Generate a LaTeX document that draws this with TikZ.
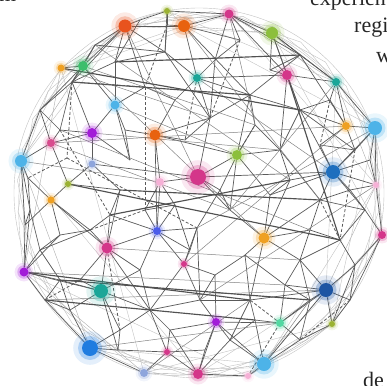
\documentclass[tikz,border=0pt]{standalone}
\usepackage{fontspec}
\newfontfamily\pagefont{Liberation Serif}
\pgfdeclarelayer{edges}
\pgfsetlayers{edges,main}
\definecolor{corg}{HTML}{E8531E}
\definecolor{colive}{HTML}{9BB232}
\definecolor{corange}{HTML}{E8620F}
\definecolor{cmag}{HTML}{D4368A}
\definecolor{cyg}{HTML}{8CBF3C}
\definecolor{cgold}{HTML}{EFA022}
\definecolor{cgreen}{HTML}{3DBE6C}
\definecolor{cteal}{HTML}{1AA698}
\definecolor{clblue}{HTML}{4DB3E8}
\definecolor{cpurple}{HTML}{A21CD8}
\definecolor{cpink}{HTML}{D94C8E}
\definecolor{cperi}{HTML}{8EA5DC}
\definecolor{clpink}{HTML}{F6B0D6}
\definecolor{cblue}{HTML}{1E6FBE}
\definecolor{croyal}{HTML}{4B5CEA}
\definecolor{cdblue}{HTML}{1D55A3}
\definecolor{cmint}{HTML}{52D8A2}
\definecolor{cbblue}{HTML}{1F7CE0}
\definecolor{ledge}{HTML}{5A5A5A}
\definecolor{lrim}{HTML}{C2C2C2}
\tikzset{
  dot/.style={circle, inner sep=0pt, draw=none},
  edgeA/.style={draw=ledge, line width=0.7pt},
  edgeB/.style={draw=ledge!90!black, line width=1.15pt},
  edgeC/.style={draw=ledge!75!white, line width=0.5pt},
  edgeD/.style={draw=ledge, line width=0.8pt, dash pattern=on 3pt off 2pt},
  rimline/.style={draw=lrim, line width=0.4pt},
  rimdark/.style={draw=ledge!50!white, line width=0.4pt},
  txt/.style={anchor=base west, inner sep=0pt, font=\pagefont\fontsize{22}{26}\selectfont, text=black!85}
}
\begin{document}
\begin{tikzpicture}[x=1pt,y=-1pt]
\useasboundingbox (0,0) rectangle (387,385);
% hidden mesh vertices
\foreach \n/\x/\y in {h1/167/25,h2/115/62,h3/72/82,h4/145/87,h5/165/52,h6/240/40,
  h7/300/55,h8/250/95,h9/210/118,h10/300/110,h11/355/150,h12/320/200,h13/365/210,
  h14/355/265,h15/300/260,h16/340/240,h17/250/300,h18/200/300,h19/150/310,h20/120/330,
  h21/70/310,h22/40/250,h23/30/210,h24/28/178,h25/67/158,h26/40/110,h27/197/228,
  h28/145/210,h29/230/210,h30/280/150,h31/120/190,h32/90/230,h33/60/280,h34/230/340,
  h35/300/340,h36/118/350,h37/270/195,h38/185/140,h39/130/160,h40/310/300,
  g1/95/45,g2/215/60,g3/330/100,g4/255/125,g5/175/100,g6/60/130,g7/125/130,
  g8/220/190,g9/290/180,g10/350/190,g11/110/215,g12/175/205,g13/245/255,g14/310/230,
  g15/60/235,g16/140/270,g17/215/275,g18/285/285,g19/45/300,g20/170/330,g21/255/320,
  g22/350/300,g23/205/350,g24/370/160,g25/25/225,g26/140/20,g27/270/70,g28/320/145,
  g29/190/250,g30/80/280}
  \coordinate (\n) at (\x,\y);
\foreach \i in {0,...,35}
  \path (199,193) ++({\i*10+4}:182) coordinate (r\i);
% coloured glowing nodes
\foreach \n/\x/\y/\c/\r in {n1/125/26/corg/6.5,n2/167/11/colive/3,n3/184/26/corange/6,
  n4/229/14/cmag/4.5,n5/272/33/cyg/6,n6/61/68/cgold/3.5,n7/83/66/cgreen/5,
  n8/197/78/cteal/4,n9/287/75/cmag/5,n10/336/82/cteal/4,n11/115/105/clblue/4.5,
  n12/346/126/cgold/4,n13/375/128/clblue/7,n14/92/133/cpurple/5,n15/155/135/corange/5.5,
  n16/51/143/cpink/4,n17/21/161/clblue/6,n18/92/164/cperi/3.5,n19/237/155/cyg/5,
  n20/198/177/cmag/8,n21/160/182/clpink/4,n22/333/172/cblue/7,n23/68/184/colive/3,
  n24/376/185/clpink/3,n25/51/200/cgold/3.5,n26/157/231/croyal/4,n27/264/238/cgold/5.5,
  n28/382/235/cmag/4,n29/107/248/cmag/5.5,n30/184/264/cmag/3,n31/24/272/cpurple/4.5,
  n32/101/291/cteal/7,n33/326/290/cdblue/7,n34/216/322/cpurple/4,n35/280/323/cmint/4,
  n36/332/324/colive/3,n37/90/348/cbblue/8,n38/167/352/cmag/3,n39/144/373/cperi/4,
  n40/198/374/cmag/5,n41/248/376/clpink/3,n42/264/364/clblue/7}{
  \fill[\c, opacity=0.12] (\x,\y) circle[radius=\r*2.1pt];
  \fill[\c, opacity=0.28] (\x,\y) circle[radius=\r*1.5pt];
  \node[dot, fill=\c, minimum size=\r*2pt] (\n) at (\x,\y) {};
}
\begin{pgfonlayer}{edges}
\draw[rimline] (199,193) circle[radius=185pt];
% rim bands
\foreach \i in {0,...,35}{
  \pgfmathtruncatemacro\ja{mod(\i+3,36)}
  \draw[rimline] (r\i) -- (r\ja);
}
\foreach \a/\b in {n17/n6,n6/n7,n7/n1,n1/n2,n2/n3,n3/n4,n4/n5,n5/n10,n10/n13,n13/n24,
  n24/n28,n28/n33,n33/n36,n36/n42,n42/n41,n41/n40,n40/n39,n39/n37,n37/n31,n31/n17}
  \draw[rimline] (\a) to[bend left=6] (\b);
\foreach \a/\b in {n17/n7,n6/n1,n1/n4,n3/n5,n4/n10,n5/n13,n10/n24,n13/n28,n24/n33,
  n28/n36,n33/n42,n36/n41,n42/n40,n41/n39,n40/n37,n39/n31,n37/n17,n31/n6}
  \draw[rimdark] (\a) -- (\b);
\foreach \a/\b in {n17/n1,n6/n3,n7/n4,n1/n5,n2/n10,n3/n13,n4/n24,n5/n28,n10/n33,n13/n36,
  n24/n42,n28/n41,n33/n40,n36/n39,n42/n37,n41/n31,n40/n17,n39/n6}
  \draw[rimline] (\a) -- (\b);
% main mesh
\foreach \a/\b in {n1/h2,n1/h5,n1/n3,n1/n7,n1/h4,n1/h3,
  n3/h1,n3/n8,n3/h6,n3/n4,n3/h8,n4/h6,n4/n5,n4/h7,n4/n9,
  n5/h7,n5/n10,n5/h10,n5/n9,n2/h1,n2/n4,n2/h5,
  h1/h5,h5/h2,h5/n8,h5/h9,h2/n11,h2/h3,
  n6/n7,n7/h3,n7/h26,n7/n11,h3/h26,h3/n14,
  n8/h8,n8/n9,n8/h9,n9/n10,n9/h10,n9/h30,n10/n12,n10/n13,n10/h7,
  h7/h8,h7/n12,h8/h9,h8/h10,h8/n19,h9/n15,h9/h38,h9/n20,
  h10/n12,h10/h11,h10/h30,h10/n22,n11/n14,n11/h4,n11/h39,
  n12/n13,n12/h11,n13/n22,n13/n24,n13/h11,
  n14/n16,n14/h39,n14/n18,n15/n21,n15/h38,n15/n19,n15/n26,
  n16/n17,n16/h26,n16/n23,n17/h24,n17/h26,n17/h23,
  n18/n23,n18/h31,n18/n20,n19/n20,n19/h30,n19/h37,n19/h29,
  n20/n21,n20/n22,n20/h29,n21/h28,n21/n26,
  n22/h11,n22/n24,n22/h12,n22/h37,n22/h13,n23/n25,n23/h31,
  h24/n25,h24/h23,n25/h32,n25/n29,
  n26/h28,n26/h27,n26/n29,n26/n30,
  n27/h29,n27/h37,n27/h12,n27/h15,n27/h17,
  n28/h13,n28/h14,n28/n24,h12/h13,h12/h30,h13/h16,
  h14/h16,h14/n33,h14/n36,h15/h16,h15/n33,h15/h40,
  n29/h32,n29/n32,n29/h19,n29/h31,n30/h27,n30/h18,n30/h19,
  n31/h22,n31/h33,n31/n32,n31/h23,h22/h23,h22/h32,h22/h33,
  n32/h33,n32/h21,n32/h36,n32/h20,n32/h19,
  n33/h40,n33/n36,n33/n35,n33/n42,n34/h18,n34/h34,n34/n35,n34/n40,
  n35/h35,n35/h40,n37/h21,n37/h36,n37/h20,n37/n39,
  n38/h36,n38/h19,n38/n39,n38/n40,n40/h34,n40/n41,
  n42/h35,n42/n34,n42/n41,n42/h34,h17/h18,h17/h34,h17/n33,
  h18/h19,h18/h27,h19/h20,h20/h36,h21/h33,h35/h40,h35/n36}
  \draw[edgeA] (\a) -- (\b);
\foreach \a/\b in {g1/n1,g1/n7,g1/h3,g1/h5,
  g2/n8,g2/n4,g2/h6,g2/h9,g3/n10,g3/h10,g3/n12,
  g4/h8,g4/n19,g4/h30,g5/n8,g5/h4,g5/n15,
  g6/n16,g6/n14,g6/h26,g6/h3,g7/n11,g7/n15,g7/h39,
  g8/n20,g8/n19,g8/h29,g8/h27,g9/n22,g9/h37,g9/h30,g9/n27,
  g10/n22,g10/n24,g10/h13,g10/h12,g11/n29,g11/h31,g11/h32,g11/n26,
  g12/n21,g12/n26,g12/h28,g12/g29,g13/n27,g13/h17,g13/g17,g13/g18,
  g14/h12,g14/h16,g14/h15,g14/n27,g15/n25,g15/h22,g15/h32,g15/n31,
  g16/n29,g16/n26,g16/h19,g16/n32,g17/n30,g17/h18,g17/n34,
  g18/h15,g18/n35,g18/h40,g18/n33,g19/n31,g19/h33,g19/h21,g19/n37,
  g20/n38,g20/h19,g20/n34,g20/n40,g21/n35,g21/h34,g21/h17,g21/n42,
  g22/n33,g22/n36,g22/h14,g22/n28,g23/n34,g23/n40,g23/n38,
  g24/n13,g24/n22,g24/n24,g25/n17,g25/n31,g25/h23,g25/n25,
  g26/n1,g26/n2,g26/h2,g27/n5,g27/n9,g27/h7,
  g28/n22,g28/h11,g28/n12,g29/n26,g29/n30,g29/h27,
  g30/n32,g30/h33,g30/n29}
  \draw[edgeA] (\a) -- (\b);
% long chords
\foreach \a/\b in {n14/h30,n7/n27,n16/h29,n29/h15,
  n37/n35,n11/n19,n1/n20,n3/h12,n10/h29,n13/h27,
  n24/h18,n12/n30,n17/n21,n6/h9,
  n39/h17,n42/h40,n8/n22,g1/g9,g6/g14,n16/n12,n31/g18,
  g19/n33,n7/g4,n4/g4}
  \draw[edgeC] (\a) -- (\b);
\foreach \a/\b in {h2/h7,h31/h12,n23/h16,n31/h17,h33/h40,n9/h16,h3/h8,n6/h10,
  g11/g9,g19/g21}
  \draw[edgeB] (\a) -- (\b);
% dashed
\foreach \a/\b in {h3/h4,h3/h25,h25/h24,h25/h27,h4/h28,h1/h4,h6/h9,
  h16/h12,n35/h17,h18/h17,n41/n35,h28/h32,n29/h20,h11/h16,n8/h38,
  g6/g11,n19/g4,g22/h35,g3/g28,g19/g30}
  \draw[edgeD] (\a) -- (\b);
\end{pgfonlayer}
% text of the surrounding page
\begin{scope}
\clip (0,0) rectangle (387,385);
\node[txt] (tm) at (-1,2) {m};
\node[txt] (t1) at (310,6) {experien};
\node[txt] (t2) at (354,33) {regi};
\node[txt] (t3) at (376,63) {w};
\node[txt] (t4) at (363,387) {de};
\end{scope}
\end{tikzpicture}
\end{document}
